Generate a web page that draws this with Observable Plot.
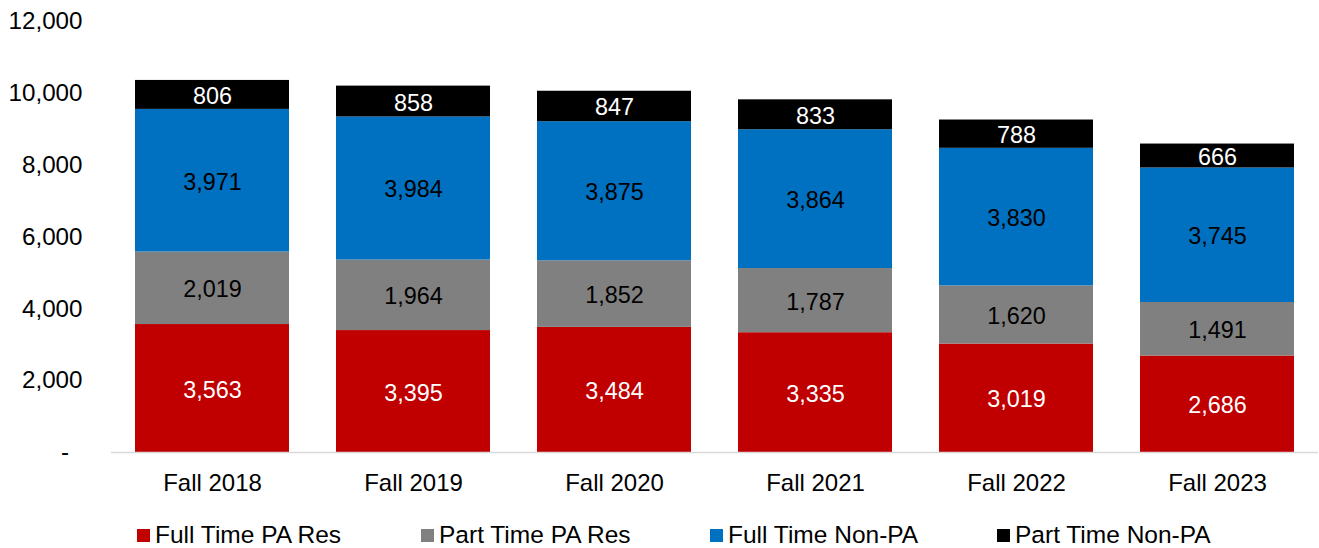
<!DOCTYPE html>
<html>
<head>
<meta charset="utf-8">
<script src="https://cdn.jsdelivr.net/npm/d3@7"></script>
<script src="https://cdn.jsdelivr.net/npm/@observablehq/plot@0.6"></script>
<style>
  body { margin: 0; background: #fff; font-family: "Liberation Sans", Arial, sans-serif; }
  #legend { position: relative; width: 1319px; height: 48px; font-size: 24.5px; color: #000; }
  .item { position: absolute; top: 22px; display: flex; align-items: center; white-space: nowrap; line-height: 26px; }
  .sw { width: 13px; height: 13px; margin-right: 5px; }
</style>
</head>
<body>
<div id="chart"></div>
<div id="legend"></div>
<script>
const terms = ["Fall 2018", "Fall 2019", "Fall 2020", "Fall 2021", "Fall 2022", "Fall 2023"];
const seriesNames = ["Full Time PA Res", "Part Time PA Res", "Full Time Non-PA", "Part Time Non-PA"];
const fullTimePARes = [3563, 3395, 3484, 3335, 3019, 2686];
const partTimePARes = [2019, 1964, 1852, 1787, 1620, 1491];
const fullTimeNonPA = [3971, 3984, 3875, 3864, 3830, 3745];
const partTimeNonPA = [806, 858, 847, 833, 788, 666];
const yTicks = [0, 2000, 4000, 6000, 8000, 10000, 12000];
const colors = ["#C00000", "#808080", "#0070C0", "#000000"];
const labelColors = ["#ffffff", "#000000", "#000000", "#ffffff"];

const seriesValues = [fullTimePARes, partTimePARes, fullTimeNonPA, partTimeNonPA];
const data = [];
seriesNames.forEach((s, i) => {
  terms.forEach((t, j) => data.push({term: t, series: s, value: seriesValues[i][j], label: labelColors[i]}));
});

const fmt = d3.format(",");
const chart = Plot.plot({
  width: 1319,
  height: 500,
  marginLeft: 111,
  marginRight: 1,
  marginTop: 21,
  marginBottom: 48,
  style: {fontFamily: "'Liberation Sans', Arial, sans-serif", fontSize: "23px", color: "#000", background: "#fff"},
  x: {domain: terms, paddingInner: 0.235, paddingOuter: 0.1175, label: null},
  y: {domain: [0, 12000], label: null},
  color: {domain: seriesNames, range: colors},
  marks: [
    Plot.barY(data, {x: "term", y: "value", z: "series", fill: "series", order: seriesNames}),
    Plot.ruleY([0], {stroke: "#d9d9d9", strokeWidth: 1.5}),
    Plot.text(data, Plot.stackY({x: "term", y: "value", z: "series", order: seriesNames,
      text: d => fmt(d.value), fill: "label", fontSize: 23.4, dy: 1.5})),
    Plot.axisX({tickSize: 0, tickPadding: 21, fontSize: 24, label: null}),
    Plot.axisY(yTicks, {tickSize: 0, tickPadding: 29, fontSize: 24.2, label: null,
      tickFormat: d => d === 0 ? "-\u2007" : fmt(d)})
  ]
});
document.getElementById("chart").appendChild(chart);

const legendX = [137, 421, 710, 997];
const legend = document.getElementById("legend");
seriesNames.forEach((s, i) => {
  const it = document.createElement("div");
  it.className = "item";
  it.style.left = legendX[i] + "px";
  it.innerHTML = `<span class="sw" style="background:${colors[i]}"></span><span>${s}</span>`;
  legend.appendChild(it);
});
</script>
</body>
</html>
